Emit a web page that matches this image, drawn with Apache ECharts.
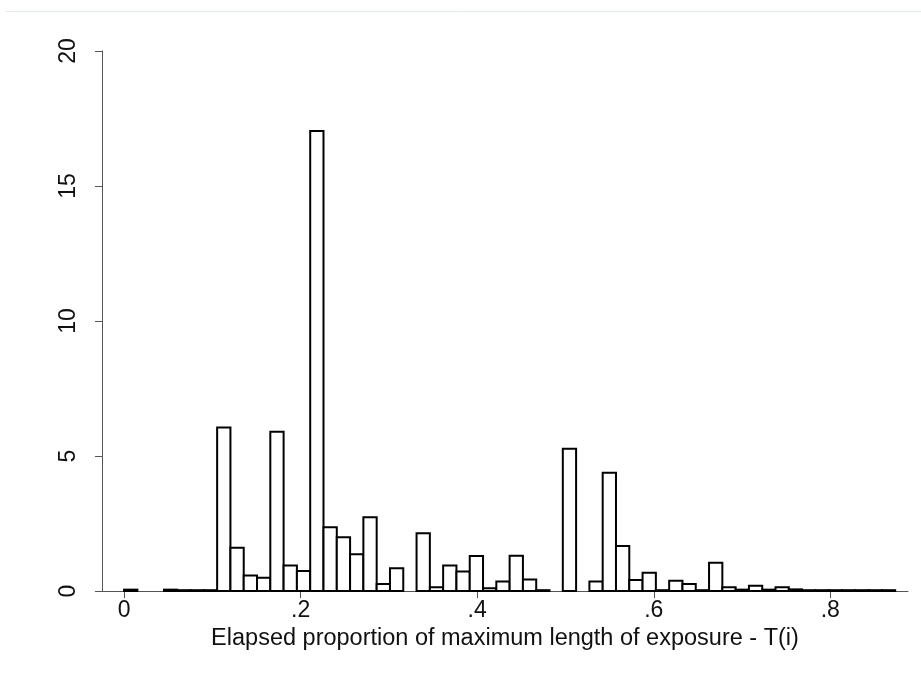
<!DOCTYPE html>
<html>
<head>
<meta charset="utf-8">
<script src="https://cdn.jsdelivr.net/npm/echarts@6/dist/echarts.min.js"></script>
<style>
  html, body { margin: 0; padding: 0; background: #ffffff; }
  #chart { width: 921px; height: 677px; }
</style>
</head>
<body>
<div id="chart"></div>
<script>
// Histogram bins: equal-width bins starting at binStart
const binStart = 0;
const binWidth = 0.01506;
// Density per bin
const density = [
  0.05, 0, 0, 0.05, 0.03, 0.03, 0.03, 6.06, 1.60, 0.57,
  0.49, 5.90, 0.94, 0.74, 17.04, 2.36, 1.99, 1.36, 2.73, 0.26,
  0.84, 0, 2.14, 0.14, 0.94, 0.72, 1.30, 0.10, 0.35, 1.31,
  0.43, 0.03, 0, 5.27, 0, 0.35, 4.38, 1.67, 0.41, 0.68,
  0.03, 0.38, 0.26, 0.03, 1.05, 0.14, 0.05, 0.19, 0.05, 0.14,
  0.06, 0.03, 0.03, 0.03, 0.03, 0.03, 0.03, 0.03
];
const xTicks = [0, 0.2, 0.4, 0.6, 0.8];
const yTicks = [0, 5, 10, 15, 20];
const xTitle = 'Elapsed proportion of maximum length of exposure - T(i)';

const FONT = '"Liberation Sans", Arial, Helvetica, sans-serif';
const binData = density.map((d, i) => [binStart + i * binWidth, binStart + (i + 1) * binWidth, d]);

const chart = echarts.init(document.getElementById('chart'), null, { renderer: 'canvas' });
chart.setOption({
  animation: false,
  backgroundColor: '#ffffff',
  grid: { left: 102, right: 13, top: 51, bottom: 86 },
  xAxis: {
    type: 'value',
    min: -0.025,
    max: 0.888,
    splitLine: { show: false },
    axisLine: { show: true, onZero: false, lineStyle: { color: '#555', width: 1 } },
    axisTick: { show: true, customValues: xTicks, length: 7, lineStyle: { color: '#555', width: 1 } },
    axisLabel: {
      customValues: xTicks,
      margin: 8,
      color: '#111',
      fontFamily: FONT,
      fontSize: 23,
      formatter: v => (v === 0 ? '0' : String(+v.toFixed(1)).replace(/^0\./, '.'))
    },
    name: xTitle,
    nameLocation: 'middle',
    nameGap: 31,
    nameTextStyle: { color: '#111', fontFamily: FONT, fontSize: 23.5 }
  },
  yAxis: {
    type: 'value',
    min: 0,
    max: 20,
    interval: 5,
    splitLine: { show: false },
    axisLine: { show: true, onZero: false, lineStyle: { color: '#555', width: 1 } },
    axisTick: { show: true, length: 7, lineStyle: { color: '#555', width: 1 } },
    axisLabel: {
      rotate: 90,
      margin: 22,
      color: '#111',
      fontFamily: FONT,
      fontSize: 23,
      formatter: v => (yTicks.includes(v) ? String(v) : '')
    }
  },
  graphic: [
    { type: 'line', silent: true, shape: { x1: 6, y1: 11.5, x2: 921, y2: 11.5 }, style: { stroke: '#e2ebeb', lineWidth: 1 } }
  ],
  series: [{
    type: 'custom',
    data: binData,
    encode: { x: [0, 1], y: 2 },
    renderItem: (params, api) => {
      const h = api.value(2);
      if (!(h > 0)) return null;
      const p0 = api.coord([api.value(0), 0]);
      const p1 = api.coord([api.value(1), h]);
      return {
        type: 'rect',
        shape: { x: p0[0], y: p1[1], width: p1[0] - p0[0], height: p0[1] - p1[1] },
        style: { fill: '#ffffff', stroke: '#000000', lineWidth: 2 }
      };
    }
  }]
});
</script>
</body>
</html>
